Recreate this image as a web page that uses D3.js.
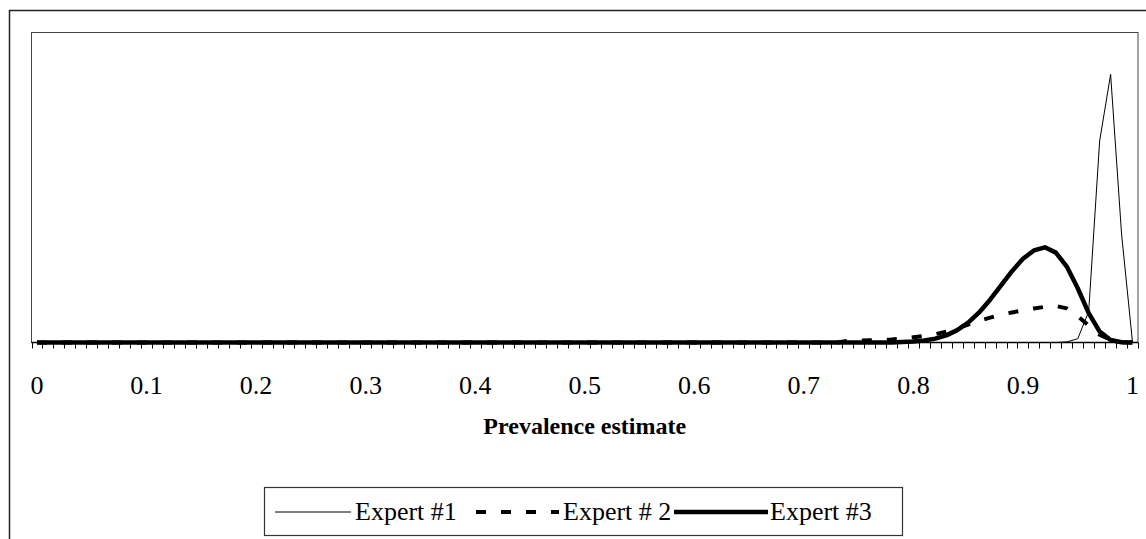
<!DOCTYPE html>
<html><head><meta charset="utf-8">
<script src="https://cdn.jsdelivr.net/npm/d3@7"></script>
<style>
html,body{margin:0;padding:0;background:#fff;}
svg{display:block;}
text{font-family:"Liberation Serif","Times New Roman",serif;fill:#000;}
</style></head>
<body>
<svg id="chart" width="1146" height="539"></svg>
<script>
// Categories: prevalence 0.00 .. 1.00 in steps of 0.01
const categories = d3.range(0, 101).map(i => +(i / 100).toFixed(2));
const tickLabels = ["0","0.1","0.2","0.3","0.4","0.5","0.6","0.7","0.8","0.9","1"];
const seriesNames = ["Expert #1", "Expert # 2", "Expert #3"];

// Non-zero density values (relative), by category index; all others are 0
const expert1Nonzero = {94:0.002, 95:0.012, 96:0.1, 97:0.65, 98:0.865, 99:0.35};
const expert2Nonzero = {74:0.005, 75:0.006, 76:0.007, 77:0.008, 78:0.01, 79:0.013, 80:0.017, 81:0.021, 82:0.027, 83:0.035, 84:0.046, 85:0.058, 86:0.07, 87:0.08, 88:0.09, 89:0.097, 90:0.104, 91:0.11, 92:0.115, 93:0.118, 94:0.11, 95:0.085, 96:0.055, 97:0.025, 98:0.008, 99:0.001};
const expert3Nonzero = {79:0.0013, 80:0.003, 81:0.0064, 82:0.0126, 83:0.023, 84:0.04, 85:0.064, 86:0.097, 87:0.138, 88:0.184, 89:0.23, 90:0.27, 91:0.297, 92:0.307, 93:0.29, 94:0.245, 95:0.175, 96:0.095, 97:0.035, 98:0.008, 99:0.001};

const expert1 = categories.map((c, i) => expert1Nonzero[i] || 0);
const expert2 = categories.map((c, i) => expert2Nonzero[i] || 0);
const expert3 = categories.map((c, i) => expert3Nonzero[i] || 0);

const svg = d3.select("#chart");
const plot = {left: 31.5, right: 1138, top: 32.5, bottom: 342.5};

// outer chart area border (extends beyond the image on right and bottom)
svg.append("path").attr("d", `M9.5,600 L9.5,10.5 L1200,10.5`)
  .attr("fill", "none").attr("stroke", "#222").attr("stroke-width", 1.5);

// plot area border
svg.append("rect").attr("x", plot.left).attr("y", plot.top)
  .attr("width", plot.right - plot.left).attr("height", plot.bottom - plot.top)
  .attr("fill", "none").attr("stroke", "#444").attr("stroke-width", 1);

const x = d3.scaleBand().domain(categories).range([plot.left, plot.right]).padding(0);
const y = d3.scaleLinear().domain([0, 1]).range([plot.bottom, plot.top]);

// axis
const axisG = svg.append("g").attr("transform", `translate(0,${plot.bottom})`);
axisG.append("line").attr("x1", plot.left).attr("x2", plot.right).attr("stroke", "#000").attr("stroke-width", 1.5);
// tick marks at every category boundary
const bounds = categories.map(c => x(c)).concat([plot.right]);
axisG.selectAll("line.tick").data(bounds).join("line").attr("class", "tick")
  .attr("x1", d => Math.round(d) + 0.5).attr("x2", d => Math.round(d) + 0.5)
  .attr("y1", 0).attr("y2", 6).attr("stroke", "#000").attr("stroke-width", 1);
// labels every 10th category
axisG.selectAll("text.lbl").data(tickLabels).join("text").attr("class", "lbl")
  .attr("x", (d, i) => x(categories[i * 10]) + x.bandwidth() / 2)
  .attr("y", 51).attr("text-anchor", "middle").attr("font-size", 26)
  .text(d => d);

svg.append("text").attr("x", (plot.left + plot.right) / 2).attr("y", 434)
  .attr("text-anchor", "middle").attr("font-size", 24).attr("font-weight", "bold")
  .text("Prevalence estimate");

const line = d3.line().x((d, i) => x(categories[i]) + x.bandwidth() / 2).y(d => y(d));

const styles = [
  {w: 1, dash: null},
  {w: 4, dash: "10,15"},
  {w: 4.5, dash: null}
];
const data = [expert1, expert2, expert3];
data.forEach((s, k) => {
  svg.append("path").datum(s).attr("d", line).attr("fill", "none")
    .attr("stroke", "#000").attr("stroke-width", styles[k].w)
    .attr("stroke-dasharray", styles[k].dash).attr("stroke-linejoin", "round");
});

// legend
const lg = svg.append("g");
lg.append("rect").attr("x", 264.5).attr("y", 487.5).attr("width", 638).attr("height", 48)
  .attr("fill", "#fff").attr("stroke", "#333").attr("stroke-width", 1.2);
const legendItems = [
  {x1: 275, x2: 351, tx: 355},
  {x1: 476, x2: 559, tx: 563},
  {x1: 674, x2: 768, tx: 770}
];
legendItems.forEach((it, k) => {
  lg.append("line").attr("x1", it.x1).attr("x2", it.x2).attr("y1", 512).attr("y2", 512)
    .attr("stroke", "#000").attr("stroke-width", styles[k].w).attr("stroke-dasharray", styles[k].dash);
  lg.append("text").attr("x", it.tx).attr("y", 520).attr("font-size", 26).text(seriesNames[k]);
});
</script>
</body></html>
